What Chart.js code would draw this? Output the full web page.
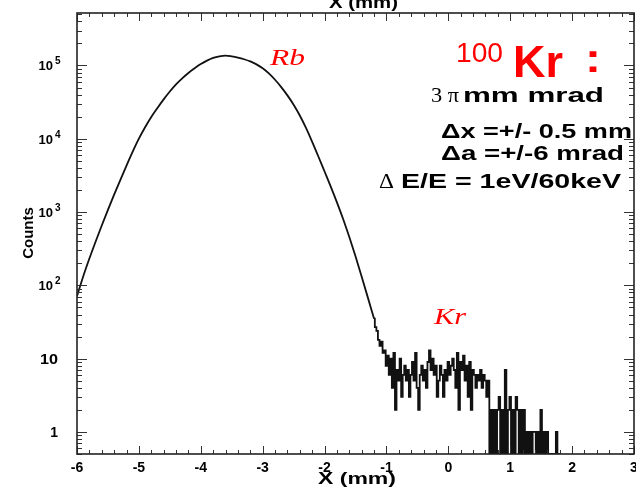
<!DOCTYPE html>
<html><head><meta charset="utf-8">
<script src="https://cdn.jsdelivr.net/npm/chart.js@4/dist/chart.umd.min.js"></script>
<style>html,body{margin:0;padding:0;background:#fff;overflow:hidden}canvas{display:block}</style>
</head><body>
<canvas id="c" width="636" height="487"></canvas>
<script>
// ---- data ----
const coreStart = -6.0;   // mm, first point of the smooth Rb peak
const coreStep = 0.1;     // mm
const coreCounts = [71,132,232,394,656,1072,1726,2735,4305,6668,
  10023,14388,19861,26363,34514,44157,55208,66834,79068,91411,
  104471,116413,126765,133352,136458,133352,128233,121619,113501,103514,
  91622,77983,63826,50699,39084,29174,20797,14060,9078,5728,
  3573,2228,1358,805,456,249,131,68,35];
const tailStart = -1.2;   // mm, first bin of the noisy Kr tail
const tailStep = 0.025;   // mm, bin width
const tailCounts = [35,27,24,18,15,17,12,13,8,11,
  6,10,4,12,2,7,5,10,3,6,
  8,5,7,3,6,9,5,12,4,2,
  6,8,5,7,4,9,13,7,10,6,
  8,3,5,8,6,3,7,5,9,6,
  8,10,7,4,12,2,9,7,11,5,
  8,3,9,2,7,6,4,6,5,7,
  4,6,5,3,5,0,2,0,2,0,
  2,3,0,2,0,7,0,2,3,0,
  2,0,3,2,0,2,0,2,0,1,
  0,1,0,1,1,0,1,0,2,0,
  1,0,1,0,0,0,0,0,1,0,
  0];
const xTickValues = [-6,-5,-4,-3,-2,-1,0,1,2,3];
const xTickLabels = ['-6','-5','-4','-3','-2','-1','0','1','2','3'];
const yDecadeExps = [0,1,2,3,4,5];
const X_MIN = -6, X_MAX = 3, X_MINOR = 0.2;
const Y_MIN = 0.5, Y_MAX = 5.2e5;

const coreData = coreCounts.map((c,i)=>({x: coreStart + i*coreStep, y: c}));
const tailData = tailCounts.map((c,i)=>({x: tailStart + i*tailStep, y: c>0 ? c : Y_MIN}));

const SANS = '"Liberation Sans", Arial, sans-serif';
const SERIF = '"Liberation Serif", "Times New Roman", serif';

function fitText(ctx, text, font, x, base, width, color){
  ctx.save();
  ctx.font = font;
  const w = ctx.measureText(text).width;
  ctx.translate(x, base);
  ctx.scale(width / w, 1);
  ctx.fillStyle = color;
  ctx.textAlign = 'left';
  ctx.textBaseline = 'alphabetic';
  ctx.fillText(text, 0, 0);
  ctx.restore();
}

const framePlugin = {
  id: 'rootFrame',
  afterDraw(chart){
    const {ctx, chartArea: a, scales} = chart;
    const xs = scales.x, ys = scales.y;
    ctx.save();
    // ticks
    ctx.strokeStyle = '#333';
    ctx.lineWidth = 1;
    ctx.beginPath();
    const nX = Math.round((X_MAX - X_MIN) / X_MINOR);
    for (let k = 0; k <= nX; k++){
      const v = X_MIN + k * X_MINOR;
      const px = Math.round(xs.getPixelForValue(v)) + 0.5;
      const len = (k % 5 === 0) ? 8 : 4;
      ctx.moveTo(px, a.bottom); ctx.lineTo(px, a.bottom - len);
      ctx.moveTo(px, a.top); ctx.lineTo(px, a.top + len);
    }
    for (let n = -1; n <= 5; n++){
      for (let m = 1; m <= 9; m++){
        const v = m * Math.pow(10, n);
        if (v < Y_MIN || v > Y_MAX) continue;
        const py = Math.round(ys.getPixelForValue(v)) + 0.5;
        const len = (m === 1) ? 10 : 5;
        ctx.moveTo(a.left, py); ctx.lineTo(a.left + len, py);
        ctx.moveTo(a.right, py); ctx.lineTo(a.right - len, py);
      }
    }
    ctx.stroke();
    // frame
    ctx.strokeStyle = '#222';
    ctx.lineWidth = 1.6;
    ctx.strokeRect(a.left, a.top, a.right - a.left, a.bottom - a.top);

    // x tick labels
    ctx.fillStyle = '#000';
    ctx.font = 'bold 14px ' + SANS;
    ctx.textAlign = 'center';
    ctx.textBaseline = 'alphabetic';
    xTickValues.forEach((v,i)=>{
      ctx.fillText(xTickLabels[i], xs.getPixelForValue(v), 472);
    });
    // y tick labels
    yDecadeExps.forEach(e=>{
      const py = ys.getPixelForValue(Math.pow(10, e));
      if (e === 0){
        ctx.font = 'bold 14px ' + SANS; ctx.textAlign = 'right';
        ctx.fillText('1', 58, py + 5);
      } else if (e === 1){
        fitText(ctx, '10', 'bold 14px ' + SANS, 40, py + 5, 18, '#000');
      } else {
        ctx.font = 'bold 13px ' + SANS; ctx.textAlign = 'right';
        ctx.fillText('10', 53, py + 5);
        ctx.font = 'bold 10px ' + SANS; ctx.textAlign = 'left';
        ctx.fillText(String(e), 55, py - 1);
      }
    });
    // axis titles
    ctx.save();
    ctx.translate(33, 233);
    ctx.rotate(-Math.PI/2);
    ctx.font = 'bold 15px ' + SANS;
    ctx.textAlign = 'center';
    ctx.fillText('Counts', 0, 0);
    ctx.restore();
    fitText(ctx, 'X (mm)', 'bold 17px ' + SANS, 318, 484, 78, '#000');
    fitText(ctx, 'X (mm)', 'bold 17px ' + SANS, 329, 8, 69, '#000');

    // annotations
    fitText(ctx, 'Rb', 'italic 24px ' + SERIF, 270, 65, 35, '#f00');
    fitText(ctx, 'Kr', 'italic 24px ' + SERIF, 434, 324, 32, '#f00');
    fitText(ctx, '100', '28px ' + SANS, 456, 62, 47, '#f00');
    fitText(ctx, 'Kr', 'bold 44px ' + SANS, 513, 77, 50, '#f00');
    fitText(ctx, ':', 'bold 40px ' + SANS, 585, 72, 16, '#f00');
    fitText(ctx, '3 \u03c0', '21px ' + SERIF, 431, 102, 28, '#000');
    fitText(ctx, 'mm mrad', 'bold 20px ' + SANS, 463, 102, 141, '#000');
    fitText(ctx, '\u0394x =+/- 0.5 mm', 'bold 20px ' + SANS, 441, 138, 191, '#000');
    fitText(ctx, '\u0394a =+/-6 mrad', 'bold 20px ' + SANS, 441, 160, 183, '#000');
    fitText(ctx, '\u0394', '21px ' + SERIF, 379, 188, 15, '#000');
    fitText(ctx, 'E/E = 1eV/60keV', 'bold 20px ' + SANS, 401, 188, 220, '#000');
    ctx.restore();
  }
};

new Chart(document.getElementById('c'), {
  type: 'line',
  data: { datasets: [
    { data: coreData, borderColor: '#111', borderWidth: 1.8, pointRadius: 0,
      cubicInterpolationMode: 'monotone', fill: false },
    { data: tailData, borderColor: '#111', borderWidth: 1.8, pointRadius: 0, stepped: 'middle', fill: false }
  ]},
  options: {
    responsive: false, animation: false, devicePixelRatio: 1,
    layout: { padding: 0 },
    plugins: { legend: { display: false }, tooltip: { enabled: false } },
    scales: {
      x: { type: 'linear', position: 'bottom', min: X_MIN, max: X_MAX,
           ticks: { display: false }, grid: { display: false }, border: { display: false },
           afterFit(s){ s.height = 33; } },
      xTop: { type: 'linear', position: 'top', min: X_MIN, max: X_MAX,
           ticks: { display: false }, grid: { display: false }, border: { display: false },
           afterFit(s){ s.height = 13; } },
      y: { type: 'logarithmic', position: 'left', min: Y_MIN, max: Y_MAX,
           ticks: { display: false }, grid: { display: false }, border: { display: false },
           afterFit(s){ s.width = 77; } },
      yRight: { type: 'logarithmic', position: 'right', min: Y_MIN, max: Y_MAX,
           ticks: { display: false }, grid: { display: false }, border: { display: false },
           afterFit(s){ s.width = 2; } }
    }
  },
  plugins: [framePlugin]
});
</script>
</body></html>
